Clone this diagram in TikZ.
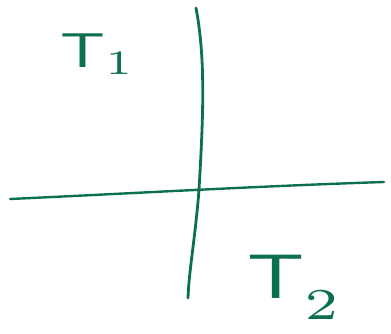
\documentclass[tikz,border=0pt]{standalone}
\usepackage{tikz}
\definecolor{penGreen}{RGB}{12,112,80}

\begin{document}
\begin{tikzpicture}[x=1pt, y=-1pt]
  \useasboundingbox (0,0) rectangle (391,334);
  % axes
  \draw[penGreen, line width=2.8pt, line cap=round]
    (196,8) .. controls (206,60) and (203,120) .. (199,190)
    .. controls (195,240) and (189,270) .. (188,298);
  \draw[penGreen, line width=2.4pt, line cap=round]
    (10,199) .. controls (120,194) and (260,186) .. (384,182);
  % labels
  \node[penGreen, xscale=6.6, yscale=4.9, inner sep=0pt] (tOne) at (98,54) {$\mathsf{T}_1$};
  \node[penGreen, xscale=8.4, yscale=6.3, inner sep=0pt] (tTwo) at (295,287) {$\mathsf{T}_{\raisebox{-0.4ex}{$\scriptstyle 2$}}$};
\end{tikzpicture}
\end{document}
